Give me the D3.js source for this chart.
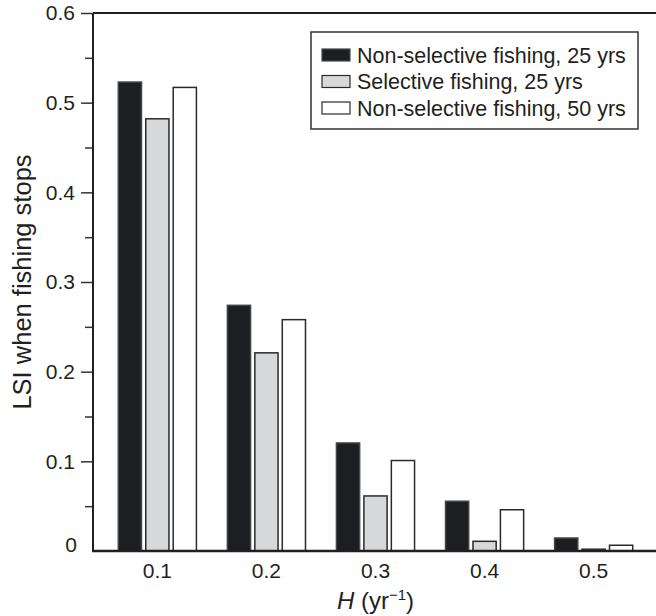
<!DOCTYPE html>
<html>
<head>
<meta charset="utf-8">
<script src="https://cdn.jsdelivr.net/npm/d3@7"></script>
<style>
  body { margin: 0; background: #fff; }
  text { font-family: "Liberation Sans", Arial, sans-serif; fill: #231f20; }
</style>
</head>
<body>
<svg width="656" height="616"></svg>
<script>
var hValues = ["0.1", "0.2", "0.3", "0.4", "0.5"];
var seriesNames = ["Non-selective fishing, 25 yrs", "Selective fishing, 25 yrs", "Non-selective fishing, 50 yrs"];
var nonSel25 = [0.523, 0.274, 0.1205, 0.0555, 0.0145];
var sel25 = [0.482, 0.221, 0.0614, 0.0108, 0.002];
var nonSel50 = [0.517, 0.258, 0.1009, 0.046, 0.0064];
var yTicks = [0, 0.1, 0.2, 0.3, 0.4, 0.5, 0.6];
var yTickLabels = ["0", "0.1", "0.2", "0.3", "0.4", "0.5", "0.6"];
var yMinorTicks = [0.05, 0.15, 0.25, 0.35, 0.45, 0.55];

var svg = d3.select("svg"),
    margin = {top: 13, right: 0, bottom: 65, left: 93},
    width = +svg.attr("width") - margin.left - margin.right,
    height = +svg.attr("height") - margin.top - margin.bottom;

var fills = ["#1d1e22", "#d7d8da", "#ffffff"],
    strokes = ["#45464a", "#2a2a2a", "#2a2a2a"];

var data = hValues.map(function(h, i) {
  return {h: h, values: [nonSel25[i], sel25[i], nonSel50[i]]};
});

var x0 = d3.scaleBand().domain(hValues).range([0, width + 2]).paddingInner(0.27).paddingOuter(0.225),
    x1 = d3.scaleBand().domain([0, 1, 2]).range([0, x0.bandwidth()]).paddingInner(0.1),
    y = d3.scaleLinear().domain([0, 0.6]).range([height, 0]);

var g = svg.append("g")
    .attr("transform", "translate(" + margin.left + "," + margin.top + ")");

// bars
var groups = g.selectAll(".group")
  .data(data)
  .enter().append("g")
    .attr("class", "group")
    .attr("transform", function(d) { return "translate(" + x0(d.h) + ",0)"; });

groups.selectAll("rect")
  .data(function(d) { return d.values.map(function(v, k) { return {k: k, v: v}; }); })
  .enter().append("rect")
    .attr("x", function(d) { return x1(d.k) + 0.75; })
    .attr("y", function(d) { return y(d.v); })
    .attr("width", x1.bandwidth() - 1.5)
    .attr("height", function(d) { return height - y(d.v); })
    .style("fill", function(d) { return fills[d.k]; })
    .style("stroke", function(d) { return strokes[d.k]; })
    .style("stroke-width", 1.5);

// y axis: major ticks
var yAxis = d3.axisLeft(y)
    .tickValues(yTicks)
    .tickSize(12)
    .tickPadding(6)
    .tickFormat(function(d, i) { return yTickLabels[i]; });

var ya = g.append("g")
    .attr("class", "axis axis--y")
    .call(yAxis);
ya.select(".domain").remove();
ya.selectAll("line").style("stroke", "#333").style("stroke-width", 1.5);
ya.selectAll("text")
    .style("font-size", "21px")
    .style("fill", "#231f20");
// the 0 label sits on the axis corner, no tick there
ya.selectAll(".tick").filter(function(d) { return d === 0; })
    .each(function() {
      d3.select(this).select("line").remove();
      d3.select(this).select("text").attr("x", -16).attr("dy", "0.0em");
    });

// minor ticks
g.append("g")
    .attr("class", "axis axis--minor")
    .call(d3.axisLeft(y).tickValues(yMinorTicks).tickSize(8).tickFormat(""))
  .call(function(s) { s.select(".domain").remove(); })
  .selectAll("line").style("stroke", "#333").style("stroke-width", 1.5);

// frame lines: left, top, bottom
g.append("line")
    .attr("x1", 0).attr("x2", 0).attr("y1", 0).attr("y2", height)
    .style("stroke", "#231f20").style("stroke-width", 2);
g.append("line")
    .attr("x1", 0).attr("x2", width).attr("y1", 0).attr("y2", 0)
    .style("stroke", "#231f20").style("stroke-width", 2);
g.append("line")
    .attr("x1", -1).attr("x2", width).attr("y1", height).attr("y2", height)
    .style("stroke", "#231f20").style("stroke-width", 2.5);

// x axis labels (no ticks)
var xa = g.append("g")
    .attr("class", "axis axis--x")
    .attr("transform", "translate(0," + height + ")")
    .call(d3.axisBottom(x0).tickSize(0).tickPadding(12));
xa.select(".domain").remove();
xa.selectAll("text")
    .style("font-size", "21px")
    .style("fill", "#231f20");

// axis titles
var xTitle = g.append("text")
    .attr("x", x0("0.3") + x0.bandwidth() / 2)
    .attr("y", height + 58)
    .attr("text-anchor", "middle")
    .style("font-size", "24px");
xTitle.append("tspan").style("font-style", "italic").text("H");
xTitle.append("tspan").text(" (yr");
xTitle.append("tspan").attr("dy", -9).style("font-size", "15px").text("\u22121");
xTitle.append("tspan").attr("dy", 9).text(")");

g.append("text")
    .attr("transform", "translate(" + (-62) + "," + (height / 2) + ") rotate(-90)")
    .attr("text-anchor", "middle")
    .style("font-size", "25.5px")
    .text("LSI when fishing stops");

// legend
var legend = svg.append("g")
    .attr("transform", "translate(311,32)");
legend.append("rect")
    .attr("width", 327).attr("height", 97)
    .style("fill", "#fff").style("stroke", "#333").style("stroke-width", 1.5);
var items = legend.selectAll(".item")
  .data(seriesNames)
  .enter().append("g")
    .attr("class", "item")
    .attr("transform", function(d, i) { return "translate(11," + (23 + i * 26.5) + ")"; });
items.append("rect")
    .attr("x", 0).attr("y", -6).attr("width", 28).attr("height", 12)
    .style("fill", function(d, i) { return fills[i]; })
    .style("stroke", function(d, i) { return strokes[i]; })
    .style("stroke-width", 1.2);
items.append("text")
    .attr("x", 35).attr("dy", "0.35em")
    .style("font-size", "21.5px")
    .text(function(d) { return d; });
</script>
</body>
</html>
